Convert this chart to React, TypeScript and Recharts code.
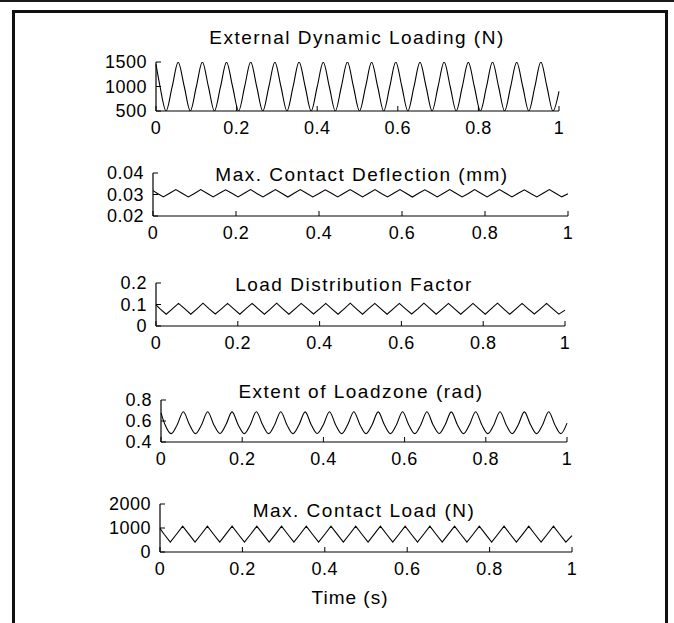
import React from 'react';
import { LineChart, Line, XAxis, YAxis } from 'recharts';

// time axis (s), sampled at the quarter points of each load cycle
const time = [
  0, 0.01, 0.025, 0.04, 0.055, 0.07, 0.085, 0.1, 0.115, 0.13, 0.145, 0.16, 0.175, 0.19, 0.205, 0.22, 0.235,
  0.25, 0.265, 0.28, 0.295, 0.31, 0.325, 0.34, 0.355, 0.37, 0.385, 0.4, 0.415, 0.43, 0.445, 0.46, 0.475,
  0.49, 0.505, 0.52, 0.535, 0.55, 0.565, 0.58, 0.595, 0.61, 0.625, 0.64, 0.655, 0.67, 0.685, 0.7, 0.715,
  0.73, 0.745, 0.76, 0.775, 0.79, 0.805, 0.82, 0.835, 0.85, 0.865, 0.88, 0.895, 0.91, 0.925, 0.94, 0.955,
  0.97, 0.985, 1,
];

const extLoad = [
  1450,
  1000, 500, 990, 1495, 1005, 500, 995, 1500, 1000, 500, 990, 1495, 1000, 500, 1000, 1500,
  995, 500, 995, 1495, 1000, 500, 990, 1500, 1005, 500, 995, 1495, 1000, 500, 1000, 1500,
  995, 500, 990, 1495, 1000, 500, 995, 1500, 1000, 500, 990, 1495, 1005, 500, 1000, 1500,
  1000, 500, 995, 1495, 995, 500, 990, 1500, 1000, 500, 995, 1495, 1000, 500, 990, 1500,
  1000, 500, 900,
];

const deflection = [
  0.0318,
  0.0306, 0.0289, 0.0306, 0.0323, 0.0306, 0.0289, 0.0305, 0.0323, 0.0306, 0.0289, 0.0306, 0.0322, 0.0306, 0.0289, 0.0306, 0.0323,
  0.0305, 0.0289, 0.0306, 0.0323, 0.0306, 0.0288, 0.0306, 0.0323, 0.0306, 0.0289, 0.0305, 0.0322, 0.0306, 0.0289, 0.0306, 0.0323,
  0.0306, 0.0289, 0.0306, 0.0323, 0.0305, 0.0289, 0.0306, 0.0323, 0.0306, 0.0288, 0.0306, 0.0322, 0.0306, 0.0289, 0.0306, 0.0323,
  0.0306, 0.0289, 0.0305, 0.0323, 0.0306, 0.0289, 0.0306, 0.0323, 0.0306, 0.0289, 0.0306, 0.0322, 0.0305, 0.0289, 0.0306, 0.0323,
  0.0306, 0.0289, 0.0303,
];

const loadFactor = [
  0.098,
  0.08, 0.055, 0.08, 0.105, 0.081, 0.055, 0.08, 0.106, 0.08, 0.056, 0.08, 0.105, 0.08, 0.055, 0.081, 0.105,
  0.08, 0.055, 0.08, 0.106, 0.08, 0.055, 0.08, 0.105, 0.081, 0.056, 0.08, 0.105, 0.08, 0.055, 0.08, 0.106,
  0.08, 0.055, 0.081, 0.105, 0.08, 0.055, 0.08, 0.105, 0.08, 0.056, 0.08, 0.106, 0.081, 0.055, 0.08, 0.105,
  0.08, 0.055, 0.08, 0.105, 0.08, 0.055, 0.081, 0.106, 0.08, 0.055, 0.08, 0.105, 0.08, 0.056, 0.08, 0.105,
  0.08, 0.055, 0.074,
];

const loadzone = [
  0.678,
  0.565, 0.48, 0.565, 0.688, 0.566, 0.48, 0.565, 0.688, 0.565, 0.481, 0.566, 0.687, 0.565, 0.48, 0.565, 0.688,
  0.566, 0.48, 0.565, 0.688, 0.565, 0.48, 0.564, 0.687, 0.565, 0.481, 0.565, 0.688, 0.565, 0.48, 0.566, 0.688,
  0.565, 0.48, 0.565, 0.687, 0.566, 0.48, 0.565, 0.688, 0.565, 0.48, 0.565, 0.688, 0.564, 0.481, 0.565, 0.687,
  0.565, 0.48, 0.566, 0.688, 0.565, 0.48, 0.565, 0.688, 0.565, 0.48, 0.565, 0.687, 0.566, 0.48, 0.565, 0.688,
  0.565, 0.48, 0.58,
];

const contactLoad = [
  985,
  740, 410, 740, 1075, 745, 410, 740, 1078, 740, 408, 742, 1075, 740, 410, 740, 1076,
  742, 410, 738, 1075, 740, 410, 740, 1078, 740, 412, 740, 1075, 742, 410, 740, 1075,
  740, 410, 742, 1078, 740, 408, 740, 1075, 740, 410, 740, 1076, 738, 410, 742, 1075,
  740, 410, 740, 1078, 742, 410, 740, 1075, 740, 410, 738, 1076, 740, 410, 740, 1075,
  740, 410, 680,
];

const timeTicks = [0, 0.2, 0.4, 0.6, 0.8, 1];
const extLoadTicks = [500, 1000, 1500];
const deflectionTicks = [0.02, 0.03, 0.04];
const loadFactorTicks = [0, 0.1, 0.2];
const loadzoneTicks = [0.4, 0.6, 0.8];
const contactLoadTicks = [0, 1000, 2000];

const rows = time.map((t, i) => ({
  t,
  extLoad: extLoad[i],
  deflection: deflection[i],
  loadFactor: loadFactor[i],
  loadzone: loadzone[i],
  contactLoad: contactLoad[i],
}));

const FONT = '"Liberation Sans", Arial, sans-serif';
const W = 674;
const MT = 16;
const YW = 100;
const XH = 32;

const panels = [
  { key: 'extLoad', title: 'External Dynamic Loading (N)', ticks: extLoadTicks, left: 156, right: 559, top: 62, bottom: 111, tx: 357, ty: 38, curve: 'monotone' },
  { key: 'deflection', title: 'Max. Contact Deflection (mm)', ticks: deflectionTicks, left: 153, right: 568, top: 173, bottom: 216, tx: 362, ty: 175, curve: 'linear' },
  { key: 'loadFactor', title: 'Load Distribution Factor', ticks: loadFactorTicks, left: 156, right: 565, top: 283, bottom: 326, tx: 354, ty: 285, curve: 'linear' },
  { key: 'loadzone', title: 'Extent of Loadzone (rad)', ticks: loadzoneTicks, left: 161, right: 567, top: 400, bottom: 442, tx: 361, ty: 392, curve: 'monotone' },
  { key: 'contactLoad', title: 'Max. Contact Load (N)', ticks: contactLoadTicks, left: 160, right: 572, top: 504, bottom: 552, tx: 364, ty: 511, curve: 'linear' },
];

const XTick = (props: any) => {
  const { x, y, payload } = props;
  return (
    <g>
      <line x1={x} x2={x} y1={y} y2={y - 5} stroke="#000" />
      <text x={x} y={y + 17} textAnchor="middle" dominantBaseline="central"
        fontSize={18} fontFamily={FONT} fill="#000" letterSpacing={0.5}>
        {String(payload.value)}
      </text>
    </g>
  );
};

const YTick = (props: any) => {
  const { x, y, payload } = props;
  return (
    <g>
      <line x1={x} x2={x + 5} y1={y} y2={y} stroke="#000" />
      <text x={x - 9} y={y} textAnchor="end" dominantBaseline="central"
        fontSize={18} fontFamily={FONT} fill="#000" letterSpacing={0.5}>
        {String(payload.value)}
      </text>
    </g>
  );
};

function Panel({ p }: { p: typeof panels[number] }) {
  const h = p.bottom - p.top + MT + XH;
  return (
    <div style={{ position: 'absolute', left: 0, top: p.top - MT }}>
      <LineChart width={W} height={h} data={rows}
        margin={{ top: MT, right: W - p.right, left: p.left - YW, bottom: 0 }}>
        <XAxis dataKey="t" type="number" domain={[0, 1]} ticks={timeTicks} interval={0}
          height={XH} tickSize={0} tickMargin={0} tickLine={false}
          axisLine={{ stroke: '#000', strokeWidth: 1.2 }} tick={<XTick />} />
        <YAxis type="number" domain={[p.ticks[0], p.ticks[2]]} ticks={p.ticks} interval={0}
          width={YW} tickSize={0} tickMargin={0} tickLine={false}
          axisLine={{ stroke: '#000', strokeWidth: 1.2 }} tick={<YTick />} allowDataOverflow />
        <Line dataKey={p.key} type={p.curve as any} stroke="#000" strokeWidth={1.1}
          dot={false} isAnimationActive={false} />
      </LineChart>
    </div>
  );
}

export default function App() {
  return (
    <div style={{ position: 'relative', width: W, height: 623, background: '#fff', overflow: 'hidden', fontFamily: FONT, color: '#000' }}>
      <style>{'body{margin:0}'}</style>
      <div style={{ position: 'absolute', left: 0, top: 0, width: W, height: 2, background: '#1a1a1a' }} />
      <div style={{ position: 'absolute', left: 12, top: 10, width: 650, height: 640, border: '3px solid #111' }} />
      {panels.map((p) => <Panel key={p.key} p={p} />)}
      {panels.map((p) => (
        <div key={p.key + '-t'} style={{ position: 'absolute', left: p.tx - 220, top: p.ty - 11, width: 440, lineHeight: '22px', textAlign: 'center', fontSize: 19, letterSpacing: 1.5, whiteSpace: 'nowrap' }}>
          {p.title}
        </div>
      ))}
      <div style={{ position: 'absolute', left: 350 - 100, top: 598 - 11, width: 200, lineHeight: '22px', textAlign: 'center', fontSize: 19, letterSpacing: 1, whiteSpace: 'nowrap' }}>
        Time (s)
      </div>
    </div>
  );
}
